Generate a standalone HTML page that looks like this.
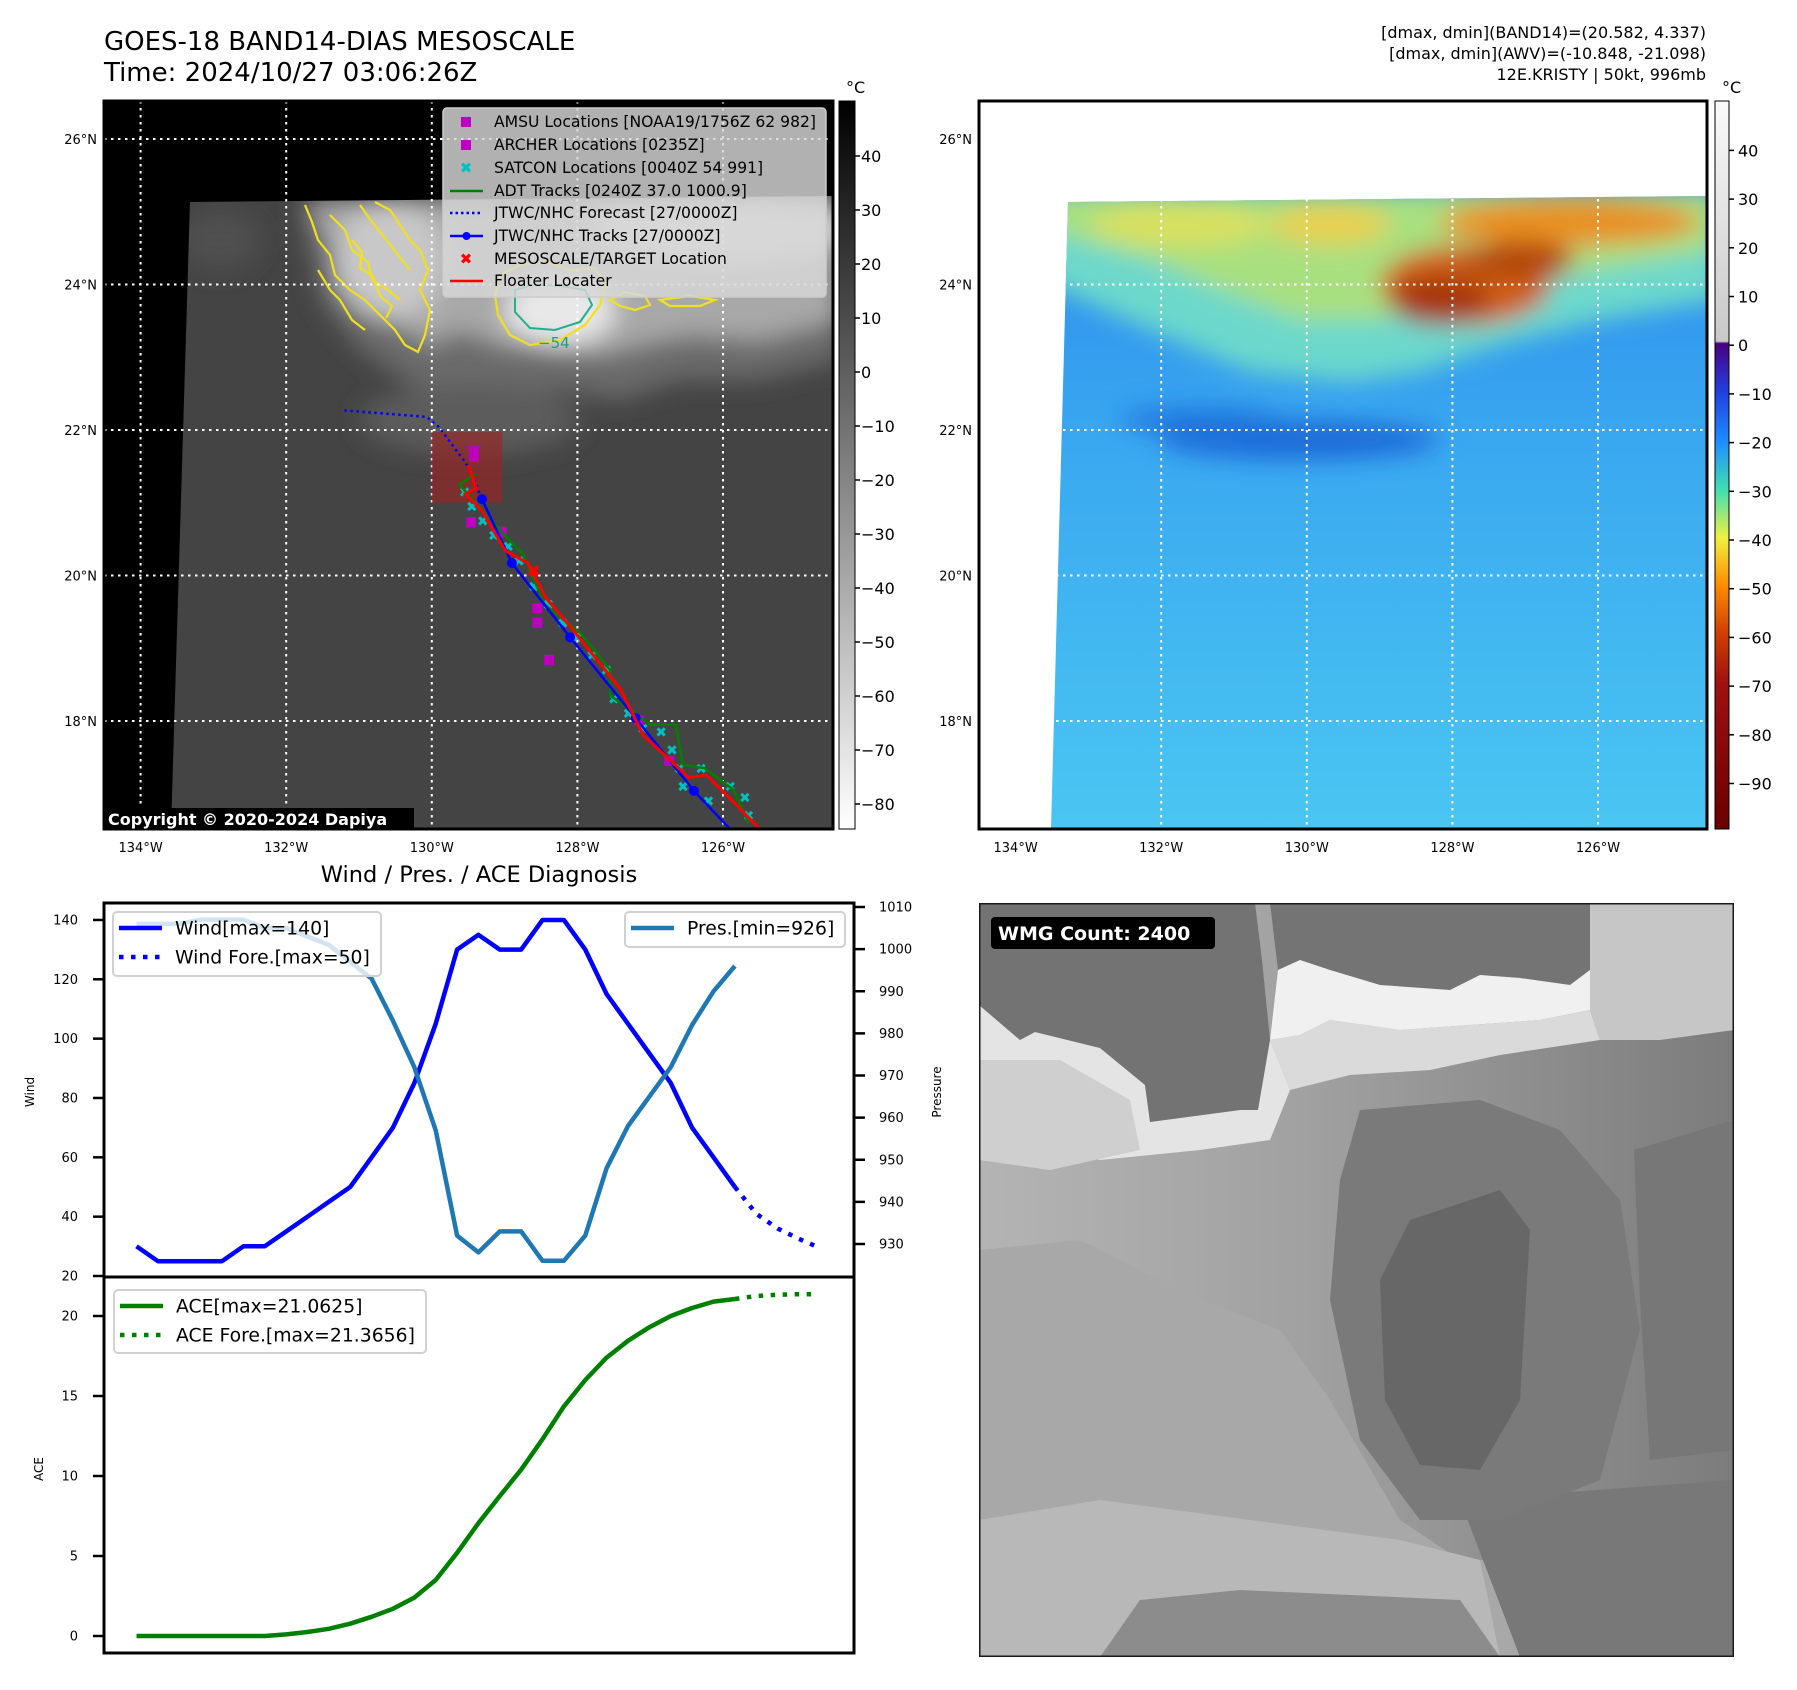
<!DOCTYPE html>
<html><head><meta charset="utf-8">
<style>
html,body{margin:0;padding:0;background:#fff;}
svg{display:block;font-family:"DejaVu Sans","Liberation Sans",sans-serif;}
</style></head>
<body>
<svg id="root" width="1797" height="1690" viewBox="0 0 1797 1690" xmlns="http://www.w3.org/2000/svg">
<defs>
  <filter id="blur6" x="-20%" y="-20%" width="140%" height="140%"><feGaussianBlur stdDeviation="6"/></filter>
  <filter id="blur12" x="-30%" y="-30%" width="160%" height="160%"><feGaussianBlur stdDeviation="12"/></filter>
  <clipPath id="clipL"><rect x="104" y="101" width="729" height="728"/></clipPath>
  <clipPath id="clipR"><rect x="979" y="101" width="728" height="728"/></clipPath>
  <clipPath id="imgL"><polygon points="190,202 833,196 833,829 171,829"/></clipPath>
  <clipPath id="imgR"><polygon points="1068,202 1707,196 1707,829 1051,829"/></clipPath>
  <clipPath id="clipW"><rect x="979" y="903" width="755" height="754"/></clipPath>
  <linearGradient id="cbL" x1="0" y1="0" x2="0" y2="1">
    <stop offset="0" stop-color="#000"/><stop offset="1" stop-color="#fff"/>
  </linearGradient>
  <linearGradient id="cbR" x1="0" y1="0" x2="0" y2="1">
    <stop offset="0" stop-color="#fafafa"/>
    <stop offset="0.33" stop-color="#c8c8c8"/>
    <stop offset="0.333" stop-color="#4b0082"/>
    <stop offset="0.40" stop-color="#2040e0"/>
    <stop offset="0.47" stop-color="#1e90ff"/>
    <stop offset="0.535" stop-color="#40e0b0"/>
    <stop offset="0.60" stop-color="#f0f040"/>
    <stop offset="0.665" stop-color="#ff8c00"/>
    <stop offset="0.73" stop-color="#d04000"/>
    <stop offset="0.80" stop-color="#a01010"/>
    <stop offset="1" stop-color="#6a0000"/>
  </linearGradient>
  <linearGradient id="rbase" x1="0" y1="0" x2="0" y2="1">
    <stop offset="0" stop-color="#2c8cec"/>
    <stop offset="0.4" stop-color="#3aa8f0"/>
    <stop offset="1" stop-color="#4ac6f2"/>
  </linearGradient>
  <linearGradient id="wbase" x1="0" y1="0" x2="1" y2="0">
    <stop offset="0" stop-color="#b4b4b4"/>
    <stop offset="0.45" stop-color="#a0a0a0"/>
    <stop offset="1" stop-color="#7c7c7c"/>
  </linearGradient>
</defs>

<!-- Titles -->
<text x="104" y="50" font-size="26">GOES-18 BAND14-DIAS MESOSCALE</text>
<text x="104" y="81" font-size="26">Time: 2024/10/27 03:06:26Z</text>
<g font-size="16" text-anchor="end">
  <text x="1706" y="38">[dmax, dmin](BAND14)=(20.582, 4.337)</text>
  <text x="1706" y="59">[dmax, dmin](AWV)=(-10.848, -21.098)</text>
  <text x="1706" y="80">12E.KRISTY | 50kt, 996mb</text>
</g>

<!-- LEFT MAP -->
<g>
  <rect x="104" y="101" width="729" height="728" fill="#000"/>
  <g clip-path="url(#imgL)">
    <rect x="160" y="190" width="680" height="640" fill="#444"/>
    <g filter="url(#blur12)">
      <path d="M300,200 L840,195 L840,360 L760,380 L680,380 L620,400 L560,390 L480,400 L420,390 L360,350 L320,300Z" fill="#6a6a6a"/>
      <path d="M310,200 L840,195 L840,320 L760,340 L690,335 L640,345 L600,355 L560,350 L500,345 L460,330 L430,345 L390,320 L350,270 L320,230Z" fill="#a8a8a8"/>
      <ellipse cx="390" cy="260" rx="55" ry="60" fill="#c8c8c8"/>
      <ellipse cx="560" cy="310" rx="55" ry="35" fill="#e8e8e8"/>
      <ellipse cx="720" cy="230" rx="130" ry="32" fill="#d4d4d4"/>
      <ellipse cx="470" cy="420" rx="110" ry="35" fill="#5c5c5c"/>
      <ellipse cx="220" cy="240" rx="40" ry="30" fill="#505050"/>
    </g>
    <g fill="none" stroke="#f0e020" stroke-width="2.2">
      <path d="M305,205 L312,222 L318,240 L330,255 L335,275 L350,290 L365,300 L380,315 L395,330 L405,345 L418,352 L425,335 L430,310 L420,290 L428,270 L420,250 L410,240 L400,225 L390,210 L375,202"/>
      <path d="M330,215 L345,230 L352,250 L368,262 L372,280 L388,290 L400,300"/>
      <path d="M360,205 L372,222 L385,238 L398,255 L410,270"/>
      <path d="M318,270 L330,290 L340,300 L352,320 L365,330"/>
      <path d="M352,240 L362,252 L360,268 L372,275 L380,296 L392,306 L386,318"/>
      <path d="M500,275 L520,265 L545,262 L570,270 L595,268 L605,285 L600,305 L585,325 L560,340 L530,345 L510,335 L498,315 L495,295Z"/>
      <path d="M610,300 L625,292 L645,296 L650,305 L635,310 L620,306Z"/>
      <path d="M660,300 L690,296 L715,300 L700,306 L670,306Z"/>
    </g>
    <path d="M515,290 L535,284 L560,286 L585,290 L592,305 L580,322 L555,330 L530,328 L515,312Z" fill="none" stroke="#20b090" stroke-width="2"/>
    <text x="538" y="348" font-size="15" fill="#20a080">−54</text>
  </g>
  <g id="gridL" stroke="#fff" stroke-width="2" stroke-dasharray="2.5 4.5" clip-path="url(#clipL)"></g>
  <g id="tracksL" clip-path="url(#clipL)"></g>
  <rect x="104" y="101" width="729" height="728" fill="none" stroke="#000" stroke-width="3"/>
  <g>
    <rect x="443" y="108" width="383" height="189" rx="4" fill="#d8d8d8" fill-opacity="0.82" stroke="#ccc" stroke-width="1.5"/>
    <g font-size="15.6" fill="#000">
      <rect x="461" y="117" width="10" height="10" fill="#c000c0"/>
      <text x="494" y="127">AMSU Locations [NOAA19/1756Z 62 982]</text>
      <rect x="461" y="140" width="10" height="10" fill="#c000c0"/>
      <text x="494" y="150">ARCHER Locations [0235Z]</text>
      <text x="466" y="173" font-size="15" font-weight="bold" fill="#00c0c0" text-anchor="middle">✖</text>
      <text x="494" y="173">SATCON Locations [0040Z 54 991]</text>
      <line x1="450" y1="191" x2="483" y2="191" stroke="#008000" stroke-width="2.5"/>
      <text x="494" y="196">ADT Tracks [0240Z 37.0 1000.9]</text>
      <line x1="450" y1="213" x2="483" y2="213" stroke="#0000ff" stroke-width="2.5" stroke-dasharray="2.5 3"/>
      <text x="494" y="218">JTWC/NHC Forecast [27/0000Z]</text>
      <line x1="450" y1="236" x2="483" y2="236" stroke="#0000ff" stroke-width="2.5"/>
      <circle cx="466.5" cy="236" r="4" fill="#0000ff"/>
      <text x="494" y="241">JTWC/NHC Tracks [27/0000Z]</text>
      <text x="466" y="264" font-size="15" font-weight="bold" fill="#ff0000" text-anchor="middle">✖</text>
      <text x="494" y="264">MESOSCALE/TARGET Location</text>
      <line x1="450" y1="281" x2="483" y2="281" stroke="#ff0000" stroke-width="2.5"/>
      <text x="494" y="286">Floater Locater</text>
    </g>
  </g>
  <rect x="103" y="808" width="311" height="22" fill="#000"/>
  <text x="108" y="825" font-size="16" font-weight="bold" fill="#fff">Copyright © 2020-2024 Dapiya</text>
  <g id="axisL" font-size="13"></g>
  <rect x="839" y="101" width="16" height="728" fill="url(#cbL)" stroke="#000" stroke-width="1"/>
  <text x="846" y="93" font-size="16">°C</text>
  <g id="cbLticks" font-size="16"></g>
</g>

<!-- RIGHT MAP -->
<g>
  <rect x="979" y="101" width="728" height="728" fill="#fff"/>
  <g clip-path="url(#imgR)">
    <rect x="1040" y="190" width="680" height="640" fill="url(#rbase)"/>
    <g filter="url(#blur12)">
      <path d="M1040,190 L1720,190 L1720,300 L1600,320 L1500,345 L1420,372 L1350,382 L1250,372 L1150,330 L1060,290 L1040,280Z" fill="#6cd8cc"/>
      <path d="M1040,190 L1720,190 L1720,250 L1600,270 L1500,290 L1380,320 L1300,320 L1220,290 L1150,260 L1060,235 L1040,230Z" fill="#a8e080"/>
      <ellipse cx="1180" cy="225" rx="90" ry="22" fill="#d8e060"/>
      <ellipse cx="1330" cy="225" rx="60" ry="20" fill="#e8d050"/>
      <ellipse cx="1570" cy="222" rx="130" ry="24" fill="#e89020"/>
      <ellipse cx="1465" cy="285" rx="85" ry="40" fill="#d06014"/>
      <ellipse cx="1440" cy="300" rx="50" ry="25" fill="#a83808"/>
      <ellipse cx="1520" cy="260" rx="55" ry="20" fill="#b44a0c"/>
      <ellipse cx="1300" cy="440" rx="140" ry="20" fill="#1a6cd8"/>
      <ellipse cx="1200" cy="420" rx="80" ry="14" fill="#2278e0"/>
    </g>
  </g>
  <g id="gridR" stroke="#fff" stroke-width="2" stroke-dasharray="2.5 4.5" clip-path="url(#clipR)"></g>
  <rect x="979" y="101" width="728" height="728" fill="none" stroke="#000" stroke-width="3"/>
  <g id="axisR" font-size="13"></g>
  <rect x="1715" y="101" width="14" height="728" fill="url(#cbR)" stroke="#000" stroke-width="1"/>
  <text x="1722" y="93" font-size="16">°C</text>
  <g id="cbRticks" font-size="16"></g>
</g>

<!-- DIAGNOSIS CHART -->
<text x="479" y="882" font-size="22.5" text-anchor="middle">Wind / Pres. / ACE Diagnosis</text>
<g id="chart"></g>

<!-- WMG PANEL -->
<g clip-path="url(#clipW)">
  <rect x="979" y="903" width="755" height="754" fill="url(#wbase)"/>
  <polygon points="979,1250 1080,1240 1200,1300 1280,1330 1330,1400 1400,1520 1460,1560 1734,1560 1734,1657 979,1657" fill="#a8a8a8"/>
  <polygon points="979,1520 1100,1500 1250,1520 1400,1540 1480,1560 1500,1657 979,1657" fill="#b8b8b8"/>
  <polygon points="1140,1600 1240,1590 1460,1600 1500,1657 1100,1657" fill="#8c8c8c"/>
  <polygon points="1460,1500 1734,1480 1734,1657 1520,1657" fill="#787878"/>
  <polygon points="1360,1110 1480,1100 1560,1130 1620,1200 1640,1330 1600,1480 1500,1520 1420,1520 1360,1440 1330,1300 1340,1180" fill="#7a7a7a"/>
  <polygon points="1410,1220 1500,1190 1530,1230 1520,1400 1480,1470 1420,1465 1385,1400 1380,1280" fill="#676767"/>
  <polygon points="1634,1150 1734,1120 1734,1450 1650,1460 1640,1300" fill="#777"/>
  <polygon points="1270,903 1590,903 1590,970 1570,985 1520,978 1480,975 1450,990 1380,985 1330,970 1300,960 1278,970" fill="#747474"/>
  <polygon points="1278,970 1300,960 1330,970 1380,985 1450,990 1480,975 1520,978 1570,985 1590,970 1590,1010 1540,1020 1470,1025 1400,1030 1330,1020 1300,1035 1270,1040" fill="#f0f0f0"/>
  <polygon points="1270,1040 1300,1035 1330,1020 1400,1030 1470,1025 1540,1020 1590,1010 1600,1040 1500,1055 1430,1070 1350,1075 1290,1090" fill="#dadada"/>
  <polygon points="1590,903 1734,903 1734,1030 1660,1040 1600,1040 1590,1010" fill="#c6c6c6"/>
  <polygon points="979,1005 1020,1040 1035,1032 1100,1048 1145,1085 1150,1122 1240,1110 1255,1100 1262,1045 1270,1040 1290,1090 1270,1140 1200,1150 1100,1160 1020,1140 979,1120" fill="#e4e4e4"/>
  <polygon points="979,1060 1060,1060 1130,1100 1140,1150 1050,1170 979,1160" fill="#cfcfcf"/>
  <polygon points="979,903 1255,903 1262,960 1270,1040 1258,1110 1240,1110 1150,1122 1145,1085 1100,1048 1035,1032 1020,1040 979,1005" fill="#737373"/>
  <rect x="979" y="903" width="755" height="754" fill="none" stroke="#1a1a1a" stroke-width="3"/>
</g>
<rect x="991" y="917" width="224" height="32" rx="4" fill="#000"/>
<text x="998" y="940" font-size="19" font-weight="bold" fill="#fff">WMG Count: 2400</text>

<script>
// ---- Diagnosis chart data ----
const histIdx = [0,1,2,3,4,5,6,7,8,9,10,11,12,13,14,15,16,17,18,19,20,21,22,23,24,25,26,27,28];
const windVals = [30,25,25,25,25,30,30,35,40,45,50,60,70,85,105,130,135,130,130,140,140,130,115,105,95,85,70,60,50];
const presVals = [1006,1006,1006,1007,1007,1007,1005,1005,1003,1001,997,993,983,972,957,932,928,933,933,926,926,932,948,958,965,972,982,990,996];
const aceVals = [0,0,0,0,0,0,0,0.1,0.25,0.45,0.77,1.2,1.7,2.4,3.5,5.2,7.05,8.75,10.4,12.3,14.35,16.0,17.4,18.45,19.3,20.0,20.5,20.9,21.0625];
const foreIdx = [28,29,30,31,31.8];
const windFore = [50,41,36,32.5,30];
const aceFore = [21.0625,21.25,21.33,21.36,21.3656];
const windTicks = [20,40,60,80,100,120,140];
const presTicks = [930,940,950,960,970,980,990,1000,1010];
const aceTicks = [0,5,10,15,20];

// ---- Map data ----
const lonTicks = [-134,-132,-130,-128,-126];
const latTicks = [26,24,22,20,18];
const irCbTicks = [40,30,20,10,0,-10,-20,-30,-40,-50,-60,-70,-80];
const wvCbTicks = [40,30,20,10,0,-10,-20,-30,-40,-50,-60,-70,-80,-90];
const fcstLon = [-131.2,-130.07,-129.9,-129.5,-129.31];
const fcstLat = [22.27,22.18,22.04,21.5,21.05];
const jtwcLon = [-129.31,-128.9,-128.1,-127.2,-126.4,-125.7];
const jtwcLat = [21.05,20.17,19.15,18.04,17.04,16.3];
const floaterLon = [-129.5,-129.39,-129.54,-129.31,-128.99,-128.68,-128.44,-128.05,-127.41,-127.10,-126.47,-126.23,-125.83,-125.52];
const floaterLat = [21.52,21.2,21.12,20.89,20.34,20.17,19.7,19.24,18.44,17.81,17.22,17.26,16.86,16.54];
const adtLon = [-129.4,-129.62,-129.0,-128.75,-128.45,-127.95,-127.55,-127.55,-127.0,-126.65,-126.55,-126.25,-125.85,-125.65];
const adtLat = [21.4,21.25,20.55,20.3,19.6,19.2,18.7,18.35,17.95,17.95,17.4,17.35,17.05,16.6];
const satconLon = [-129.55,-129.45,-129.3,-129.15,-128.95,-128.8,-128.6,-128.4,-128.2,-128.0,-127.8,-127.6,-127.5,-127.3,-127.1,-126.85,-126.7,-126.6,-126.3,-126.2,-125.9,-125.7,-125.65,-126.55];
const satconLat = [21.15,20.95,20.75,20.55,20.4,20.2,19.85,19.6,19.35,19.15,18.9,18.7,18.3,18.1,17.9,17.85,17.6,17.35,17.35,16.9,17.1,16.95,16.7,17.1];
const amsuLon = [-129.42,-129.42,-129.46,-129.04,-128.55,-128.55,-128.39,-127.15,-126.74];
const amsuLat = [21.71,21.63,20.73,20.60,19.55,19.35,18.84,18.01,17.45];
const mesoLon = [-128.6];
const mesoLat = [20.06];
const mesoBoxLon = [-130.0,-129.03];
const mesoBoxLat = [21.97,21.0];

const NS = 'http://www.w3.org/2000/svg';
function mk(tag, attrs, parent) {
  const e = document.createElementNS(NS, tag);
  for (const k in attrs) e.setAttribute(k, attrs[k]);
  parent.appendChild(e);
  return e;
}

function lonX(lon, off) { return 140.6 + (lon + 134) * 72.8 + off; }
function latY(lat) { return 139 + (26 - lat) * 72.75; }

function drawMapFrame(gridId, axisId, off, latLabelX) {
  const g = document.getElementById(gridId);
  const ax = document.getElementById(axisId);
  lonTicks.forEach(lon => {
    const x = lonX(lon, off);
    const l = mk('line', {x1: x, y1: 101, x2: x, y2: 829}, g);
    
    
    const t = mk('text', {x: x, y: 852, 'text-anchor': 'middle'}, ax);
    t.textContent = Math.abs(lon) + '°W';
    
    
  });
  latTicks.forEach(lat => {
    const y = latY(lat);
    const l = mk('line', {x1: 104 + off, y1: y, x2: 833 + off, y2: y}, g);
    
    
    const t = mk('text', {x: latLabelX, y: y + 5, 'text-anchor': 'end'}, ax);
    t.textContent = lat + '°N';
    
    
  });
}
drawMapFrame('gridL', 'axisL', 0, 97);
drawMapFrame('gridR', 'axisR', 875, 972);

function cbTicks(id, vals, yf, x0, x1) {
  const g = document.getElementById(id);
  vals.forEach(v => {
    const y = yf(v);
    const l = mk('line', {x1: x0, y1: y, x2: x0 + 5, y2: y, stroke: '#000', 'stroke-width': 1.5}, g);
    
    
    const t = mk('text', {x: x1, y: y + 6}, g);
    t.textContent = v < 0 ? '−' + Math.abs(v) : String(v);
    
    
  });
}
cbTicks('cbLticks', irCbTicks, v => 156 + (40 - v) * 5.4, 855, 861);
cbTicks('cbRticks', wvCbTicks, v => 150.4 + (40 - v) * 4.87, 1729, 1738);

const tg = document.getElementById('tracksL');
function pts(lons, lats) { return lons.map((lo, i) => lonX(lo, 0).toFixed(1) + ',' + latY(lats[i]).toFixed(1)).join(' '); }
const box = mk('rect', {x: lonX(mesoBoxLon[0], 0), y: latY(mesoBoxLat[0]), width: lonX(mesoBoxLon[1], 0) - lonX(mesoBoxLon[0], 0), height: latY(mesoBoxLat[1]) - latY(mesoBoxLat[0]), fill: '#a02020', 'fill-opacity': 0.62}, tg);


const fc = mk('polyline', {points: pts(fcstLon, fcstLat), fill: 'none', stroke: '#0000ff', 'stroke-width': 2.5, 'stroke-dasharray': '2.5 3.5'}, tg);


amsuLon.forEach((lo, i) => {
  const r = mk('rect', {x: lonX(lo, 0) - 5, y: latY(amsuLat[i]) - 5, width: 10, height: 10, fill: '#c000c0'}, tg);
  
  
});
satconLon.forEach((lo, i) => {
  const t = mk('text', {x: lonX(lo, 0), y: latY(satconLat[i]) + 5, 'font-size': 14, 'font-weight': 'bold', fill: '#00c0c0', 'text-anchor': 'middle'}, tg);
  t.textContent = '✖';
  
  
});
const adt = mk('polyline', {points: pts(adtLon, adtLat), fill: 'none', stroke: '#008000', 'stroke-width': 2.5}, tg);


const jt = mk('polyline', {points: pts(jtwcLon, jtwcLat), fill: 'none', stroke: '#0000ff', 'stroke-width': 2.5}, tg);


jtwcLon.forEach((lo, i) => {
  const c = mk('circle', {cx: lonX(lo, 0), cy: latY(jtwcLat[i]), r: 5, fill: '#0000ff'}, tg);
  
  
});
const fl = mk('polyline', {points: pts(floaterLon, floaterLat), fill: 'none', stroke: '#ff0000', 'stroke-width': 3}, tg);


mesoLon.forEach((lo, i) => {
  const t = mk('text', {x: lonX(lo, 0), y: latY(mesoLat[i]) + 6, 'font-size': 17, 'font-weight': 'bold', fill: '#ff0000', 'text-anchor': 'middle'}, tg);
  t.textContent = '✖';
  
  
});

// ---- Diagnosis chart ----
const ch = document.getElementById('chart');
const L = 104, R = 854, T1 = 903, B1 = 1277, B2 = 1653;
function xS(i) { return 136.5 + i * 21.37; }
function yW(w) { return 1276 - (w - 20) * 2.967; }
function yP(p) { return 907 + (1010 - p) * 4.2125; }
function yA(a) { return 1636 - a * 16; }
function line(xs, ys, color, dash, name) {
  const p = mk('polyline', {points: xs.map((x, i) => x.toFixed(1) + ',' + ys[i].toFixed(1)).join(' '), fill: 'none', stroke: color, 'stroke-width': 4.5, 'stroke-linejoin': 'round'}, ch);
  if (dash) p.setAttribute('stroke-dasharray', '4.5 7.5');
  
  
}
line(histIdx.map(xS), windVals.map(yW), '#0000ff', false, 'wind-line');
line(foreIdx.map(xS), windFore.map(yW), '#0000ff', true, 'wind-forecast-line');
line(histIdx.map(xS), presVals.map(yP), '#1f77b4', false, 'pressure-line');
line(histIdx.map(xS), aceVals.map(yA), '#008000', false, 'ace-line');
line(foreIdx.map(xS), aceFore.map(yA), '#008000', true, 'ace-forecast-line');

function ticks(vals, yf, side, name) {
  vals.forEach(v => {
    const y = yf(v);
    const x0 = side === 'L' ? L : R;
    const d = side === 'L' ? -11 : 11;
    const l = mk('line', {x1: x0, y1: y, x2: x0 + d, y2: y, stroke: '#000', 'stroke-width': 2.5}, ch);
    
    
    const t = mk('text', {x: side === 'L' ? 78 : 879, y: y + 4.5, 'font-size': 13, 'text-anchor': side === 'L' ? 'end' : 'start'}, ch);
    t.textContent = String(v);
    
    
  });
}
ticks(windTicks, yW, 'L', 'wind-axis');
ticks(presTicks, yP, 'R', 'pressure-axis');
ticks(aceTicks, yA, 'L', 'ace-axis');

const f1 = mk('rect', {x: L, y: T1, width: R - L, height: B1 - T1, fill: 'none', stroke: '#000', 'stroke-width': 3}, ch);


const f2 = mk('rect', {x: L, y: B1, width: R - L, height: B2 - B1, fill: 'none', stroke: '#000', 'stroke-width': 3}, ch);



function vlabel(txt, x, y, name) {
  const t = mk('text', {x: x, y: y, 'font-size': 12, 'text-anchor': 'middle', transform: 'rotate(-90 ' + x + ' ' + y + ')'}, ch);
  t.textContent = txt;
  
  
}
vlabel('Wind', 34, 1092, 'wind-axis-title');
vlabel('ACE', 43, 1469, 'ace-axis-title');
vlabel('Pressure', 941, 1092, 'pressure-axis-title');

function legend(x, y, w, h, rows, name) {
  const g = mk('g', {}, ch);
  
  
  mk('rect', {x: x, y: y, width: w, height: h, rx: 4, fill: '#fff', 'fill-opacity': 0.8, stroke: '#d0d0d0', 'stroke-width': 2}, g);
  rows.forEach((r, i) => {
    const cy = y + 16 + i * 29;
    const l = mk('line', {x1: x + 6, y1: cy, x2: x + 49, y2: cy, stroke: r[1], 'stroke-width': 4.5}, g);
    if (r[2]) l.setAttribute('stroke-dasharray', '4.5 7.5');
    const t = mk('text', {x: x + 62, y: cy + 6.5, 'font-size': 18.8}, g);
    t.textContent = r[0];
  });
}
legend(113, 912, 268, 64, [['Wind[max=140]', '#0000ff', false], ['Wind Fore.[max=50]', '#0000ff', true]], 'wind-legend');
legend(625, 912, 220, 35, [['Pres.[min=926]', '#1f77b4', false]], 'pressure-legend');
legend(114, 1290, 312, 63, [['ACE[max=21.0625]', '#008000', false], ['ACE Fore.[max=21.3656]', '#008000', true]], 'ace-legend');
</script>
</svg>
</body></html>
